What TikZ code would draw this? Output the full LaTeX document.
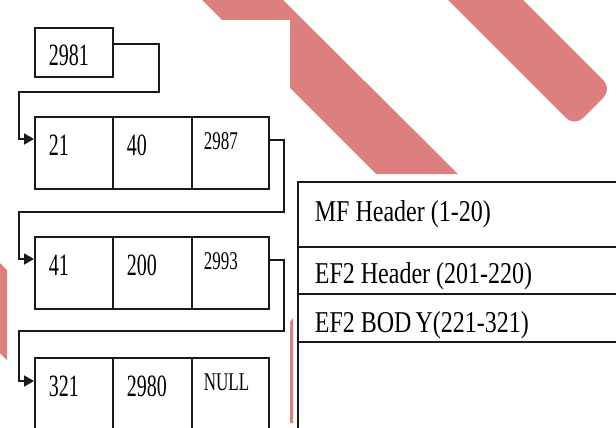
\documentclass[tikz,border=0pt]{standalone}
\usepackage{fontspec}
\setmainfont{Liberation Serif}
\usepackage{graphicx}
\usetikzlibrary{arrows.meta,positioning,calc}
\definecolor{stamp}{HTML}{DE7F7F}
\definecolor{ink}{HTML}{1A1A1A}

\begin{document}
\begin{tikzpicture}[x=1pt,y=-1pt,line width=1.8pt,draw=ink,
  cell/.style={draw,anchor=north west,inner sep=0pt,minimum height=72pt},
  num/.style={anchor=base west,inner sep=0pt,font=\fontsize{20}{24}\selectfont},
  ptr/.style={anchor=base west,inner sep=0pt,font=\fontsize{17}{20}\selectfont},
  hdr/.style={anchor=base west,inner sep=0pt,font=\fontsize{24}{28}\selectfont},
  link/.style={-{Triangle[length=10pt,width=11pt]}},
]
\clip (0,0) rectangle (616,428);
% stretched glyphs: yscale, text
\def\Stretch#1#2{\scalebox{1}[#1]{#2}}
% one record: name, top y, three fields
\def\Row#1#2#3#4#5{%
  \node[cell,minimum width=78pt] (#1a) at (34,#2) {};
  \node[cell,minimum width=79pt] (#1b) at (112,#2) {};
  \node[cell,minimum width=77pt] (#1c) at (191,#2) {};
  \node[num] (#1ta) at ([shift={(14pt,-39pt)}]#1a.north west) {\Stretch{1.55}{#3}};
  \node[num] (#1tb) at ([shift={(14pt,-39pt)}]#1b.north west) {\Stretch{1.55}{#4}};
  \node[ptr] (#1tc) at ([shift={(12pt,-33pt)}]#1c.north west) {\Stretch{1.5}{#5}};}
% watermark pieces
\fill[stamp] (192,-10) -- (222,20) -- (290,20) -- (290,88) -- (376,174)
  -- (458,174) -- (273,-10) -- cycle;
\fill[stamp,rounded corners=12pt] (438,-10) -- (574.5,126.5) -- (612,89) -- (513,-10) -- cycle;
\fill[stamp] (0,263) -- (7,270) -- (7,360) -- (0,353) -- cycle;
\fill[stamp] (290,322) -- (293,318) -- (293,423) -- (290,423) -- cycle;
% start pointer
\node[cell,minimum width=78pt,minimum height=49pt] (b0) at (34,27) {};
\node[num] (b0t) at ([shift={(14pt,-39pt)}]b0.north west) {\Stretch{1.55}{2981}};
% records
\Row{r1}{116}{21}{40}{2987}
\Row{r2}{236}{41}{200}{2993}
\Row{r3}{357}{321}{2980}{NULL}
% links
\coordinate (k0) at (159,92);  \coordinate (m0) at (19,92);
\coordinate (k1) at (284,212); \coordinate (m1) at (19,212);
\coordinate (k2) at (284,331); \coordinate (m2) at (19,331);
\draw[link] ([yshift=-17pt]b0.north east) -| (k0) -- (m0) |- ([yshift=-23pt]r1a.north west);
\draw[link] ([yshift=-24pt]r1c.north east) -| (k1) -- (m1) |- ([yshift=-23pt]r2a.north west);
\draw[link] ([yshift=-24pt]r2c.north east) -| (k2) -- (m2) |- ([yshift=-24pt]r3a.north west);
% file layout
\draw (298,430) |- (620,182);
\draw (298,247) -- (620,247);
\draw (298,294) -- (620,294);
\draw (298,342) -- (620,342);
\node[hdr] (mf)  at (314,221) {\Stretch{1.26}{MF Header (1-20)}};
\node[hdr] (efh) at (314,283) {\Stretch{1.26}{EF2 Header (201-220)}};
\node[hdr] (efb) at (314,332) {\Stretch{1.26}{EF2 BOD\,Y(221-321)}};
\end{tikzpicture}
\end{document}
